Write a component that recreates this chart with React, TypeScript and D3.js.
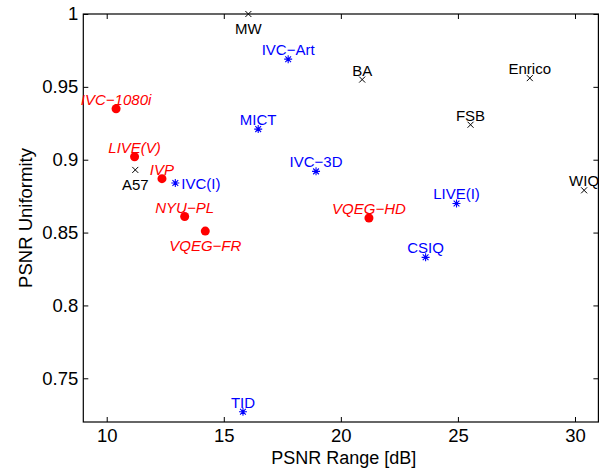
import * as d3 from "d3";
import { useEffect, useRef } from "react";

// databases, by group (x = PSNR range in dB, y = PSNR uniformity)
const redNames = ["IVC−1080i", "LIVE(V)", "IVP", "NYU−PL", "VQEG−FR", "VQEG−HD"];
const redRange = [10.4, 11.19, 12.36, 13.33, 14.21, 21.2];
const redUniformity = [0.935, 0.902, 0.887, 0.861, 0.851, 0.86];

const blackNames = ["MW", "A57", "BA", "Enrico", "FSB", "WIQ"];
const blackRange = [16.05, 11.22, 20.91, 28.07, 25.54, 30.39];
const blackUniformity = [1.0, 0.893, 0.955, 0.956, 0.924, 0.879];

const blueNames = ["IVC−Art", "MICT", "IVC(I)", "IVC−3D", "LIVE(I)", "CSIQ", "TID"];
const blueRange = [17.75, 16.47, 12.93, 18.94, 24.94, 23.62, 15.82];
const blueUniformity = [0.969, 0.921, 0.884, 0.892, 0.87, 0.833, 0.727];

// labels that sit under / right of their marker instead of above
const belowLabels = ["MW", "A57", "VQEG−FR"];
const rightLabels = ["IVC(I)"];

const xTicks = [10, 15, 20, 25, 30];
const yTicks = [0.75, 0.8, 0.85, 0.9, 0.95, 1];

export default function App() {
  const ref = useRef<SVGSVGElement>(null);

  useEffect(() => {
    const W = 606;
    const H = 473;
    const margin = { top: 14, right: 7.6, bottom: 51, left: 83.3 };
    const width = W - margin.left - margin.right;
    const height = H - margin.top - margin.bottom;
    const font = "'Liberation Sans', Arial, sans-serif";

    const svg = d3.select(ref.current);
    svg.selectAll("*").remove();
    const g = svg
      .append("g")
      .attr("transform", "translate(" + margin.left + "," + margin.top + ")");

    const x = d3.scaleLinear().domain([9, 31]).range([0, width]);
    const y = d3.scaleLinear().domain([0.72, 1]).range([height, 0]);

    const fmt = (d: any) => String(+(+d).toFixed(2));

    // axes, ticks pointing inwards on all four sides
    const styleAxis = (sel: any, showText: boolean) => {
      sel.select(".domain").remove();
      sel.selectAll(".tick line").attr("stroke", "#000").attr("stroke-width", 1);
      sel
        .selectAll("text")
        .attr("font-family", font)
        .attr("font-size", 18.5)
        .attr("fill", "#000");
      if (!showText) sel.selectAll("text").remove();
    };

    g.append("g")
      .attr("transform", "translate(0," + height + ")")
      .call(d3.axisBottom(x).tickValues(xTicks).tickSize(-5).tickPadding(7).tickFormat(fmt))
      .call((s: any) => styleAxis(s, true));
    g.append("g")
      .call(d3.axisTop(x).tickValues(xTicks).tickSize(-5).tickFormat(fmt))
      .call((s: any) => styleAxis(s, false));
    g.append("g")
      .call(d3.axisLeft(y).tickValues(yTicks).tickSize(-5).tickPadding(5).tickFormat(fmt))
      .call((s: any) => styleAxis(s, true));
    g.append("g")
      .attr("transform", "translate(" + width + ",0)")
      .call(d3.axisRight(y).tickValues(yTicks).tickSize(-5).tickFormat(fmt))
      .call((s: any) => styleAxis(s, false));

    g.append("rect")
      .attr("width", width)
      .attr("height", height)
      .attr("fill", "none")
      .attr("stroke", "#000")
      .attr("stroke-width", 1.2);

    // axis titles
    svg
      .append("text")
      .attr("x", margin.left + width / 2 + 3)
      .attr("y", 464)
      .attr("text-anchor", "middle")
      .attr("font-family", font)
      .attr("font-size", 18)
      .text("PSNR Range [dB]");
    svg
      .append("text")
      .attr("transform", "translate(32," + (margin.top + height / 2) + ") rotate(-90)")
      .attr("text-anchor", "middle")
      .attr("font-family", font)
      .attr("font-size", 18.5)
      .text("PSNR Uniformity");

    const labels = (names: string[], xs: number[], ys: number[], color: string, italic: boolean) => {
      g.selectAll(null)
        .data(names)
        .enter()
        .append("text")
        .attr("x", (d, i) => x(xs[i]) + (rightLabels.includes(d) ? 6 : 0))
        .attr("y", (d, i) => {
          if (belowLabels.includes(d)) return y(ys[i]) + 20;
          if (rightLabels.includes(d)) return y(ys[i]) + 5.5;
          return y(ys[i]) - 4;
        })
        .attr("text-anchor", (d) => (rightLabels.includes(d) ? "start" : "middle"))
        .attr("font-family", font)
        .attr("font-size", 15)
        .attr("font-style", italic ? "italic" : "normal")
        .attr("fill", color)
        .text((d) => d);
    };

    // red: filled circles
    g.selectAll(null)
      .data(redNames)
      .enter()
      .append("circle")
      .attr("cx", (d, i) => x(redRange[i]))
      .attr("cy", (d, i) => y(redUniformity[i]))
      .attr("r", 4.5)
      .attr("fill", "#ff0000");
    labels(redNames, redRange, redUniformity, "#ff0000", true);

    // black: x markers
    const s = 3;
    g.selectAll(null)
      .data(blackNames)
      .enter()
      .append("path")
      .attr("d", (d, i) => {
        const cx = x(blackRange[i]);
        const cy = y(blackUniformity[i]);
        return (
          "M" + (cx - s) + "," + (cy - s) + "L" + (cx + s) + "," + (cy + s) +
          "M" + (cx - s) + "," + (cy + s) + "L" + (cx + s) + "," + (cy - s)
        );
      })
      .attr("stroke", "#000")
      .attr("stroke-width", 1)
      .attr("fill", "none");
    labels(blackNames, blackRange, blackUniformity, "#000", false);

    // blue: asterisks
    const a = 4;
    const ad = a * 0.72;
    g.selectAll(null)
      .data(blueNames)
      .enter()
      .append("path")
      .attr("d", (d, i) => {
        const cx = x(blueRange[i]);
        const cy = y(blueUniformity[i]);
        return (
          "M" + (cx - a) + "," + cy + "L" + (cx + a) + "," + cy +
          "M" + cx + "," + (cy - a) + "L" + cx + "," + (cy + a) +
          "M" + (cx - ad) + "," + (cy - ad) + "L" + (cx + ad) + "," + (cy + ad) +
          "M" + (cx - ad) + "," + (cy + ad) + "L" + (cx + ad) + "," + (cy - ad)
        );
      })
      .attr("stroke", "#0000ff")
      .attr("stroke-width", 1.1)
      .attr("fill", "none");
    labels(blueNames, blueRange, blueUniformity, "#0000ff", false);
  }, []);

  return (
    <svg
      ref={ref}
      width={606}
      height={473}
      style={{ position: "absolute", left: 0, top: 0, background: "#fff" }}
    />
  );
}
